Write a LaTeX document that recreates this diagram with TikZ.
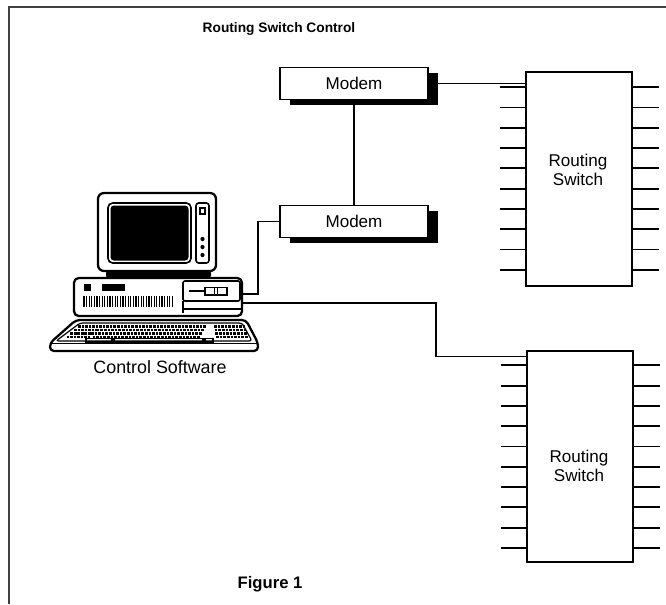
\documentclass[tikz,border=0pt]{standalone}
\usepackage{fontspec}
\setmainfont{Liberation Sans}
\usetikzlibrary{calc,shadows}
\begin{document}
\begin{tikzpicture}[x=0.75pt,y=-0.75pt,
  ln/.style={line width=1.1pt},
  boxln/.style={line width=1.3pt},
  bodyfont/.style={font=\fontsize{12.8}{14.5}\selectfont},
  modembox/.style={draw,boxln,fill=white,minimum width=111pt,minimum height=24pt,
    inner sep=0pt,bodyfont,
    drop shadow={shadow xshift=7.5pt,shadow yshift=-4pt,fill=black,opacity=1}},
  switchbox/.style={draw,boxln,fill=white,minimum width=79.5pt,inner sep=0pt},
  stub/.style={line width=1.4pt},
  keycap/.style={fill=black},
  pcline/.style={line width=1.4pt,line join=round}]
\useasboundingbox (0,0) rectangle (666,604);
\fill[white] (0,0) rectangle (666,604);

% page frame: top and left rules
\draw[line width=1.2pt,black!75] (9,604) -- (9,7) -- (666,7);

% headings
\node[anchor=west,font=\bfseries\fontsize{10.3}{12}\selectfont] (title) at (198,29) {Routing Switch Control};
\node[font=\bfseries\fontsize{12.5}{14}\selectfont] (fig) at (270,584) {Figure 1};

% modems
\node[modembox] (modemA) at (354,83.5) {Modem};
\node[modembox] (modemB) at (354,221.5) {Modem};

% routing switches with their ports
\node[switchbox,minimum height=160.5pt] (swA) at (579,179) {};
\node[bodyfont,align=center] (swAtxt) at (578,170) {Routing\\Switch};
\node[switchbox,minimum height=158pt] (swB) at (580,456.5) {};
\node[bodyfont,align=center] (swBtxt) at (579,466) {Routing\\Switch};
\foreach \i in {0,...,9}{
  \draw[stub] ($(swA.north west)+(-25,{16+20.3*\i})$) -- ++(25,0);
  \draw[stub] ($(swA.north east)+(0,{16+20.3*\i})$) -- ++(26,0);
  \draw[stub] ($(swB.north west)+(-25,{15+20.3*\i})$) -- ++(25,0);
  \draw[stub] ($(swB.north east)+(0,{15+20.3*\i})$) -- ++(26,0);
}

% ---- personal computer ----
% monitor
\draw[pcline,line width=1.7pt,rounded corners=4.5pt] (98,193) rectangle (216,271);
\draw[line width=1.2pt,rounded corners=3.5pt] (108,203) rectangle (191,263);
\fill[black,rounded corners=2.5pt] (110.5,205.5) rectangle (188.5,260.5);
\draw[line width=1.2pt,rounded corners=2pt] (196,203) rectangle (209,263);
\draw[line width=1.3pt] (200,208) rectangle (205,214);
\foreach \yy in {239,247,255} \fill (202.5,\yy) circle (2.1);
% monitor foot
\fill[rounded corners=1.5pt] (106,271) rectangle (211,277.5);
% system unit
\draw[pcline,line width=1.7pt,rounded corners=3.5pt] (74,278) rectangle (242,316);
\fill (84,284) rectangle (91,291);
\fill (102,284) rectangle (125,291);
\foreach \k in {0,...,34} \draw[line width=0.85pt] ({84+2.6*\k},296) -- ++(0,11);
\draw[line width=1.2pt,rounded corners=1.5pt] (183,281) rectangle (240,301);
\draw[line width=1.2pt] (183,301) -- (183,313);
\draw[line width=1.2pt] (183,309) -- (241,309);
\draw[line width=1.6pt] (189,291) -- (205,291);
\draw[line width=1.2pt] (205,287.5) rectangle (227,295);
\draw[line width=1.2pt] (214.5,287.5) -- (214.5,295);
\draw[line width=1.2pt] (217.5,287.5) -- (217.5,295);
% keyboard
\draw[pcline,line width=1.7pt,rounded corners=3pt] (76,320) -- (246,320) -- (258,343) -- (258,351) -- (50,351) -- (50,343) -- cycle;
\draw[line width=1.1pt] (50,343.5) -- (258,343.5);
\draw[line width=0.9pt,rounded corners=2pt] (80,323) -- (242,323) -- (252,341) -- (56,341) -- cycle;
\foreach \r in {0,...,3}{
  \pgfmathsetmacro\yy{325+3.6*\r}
  \pgfmathsetmacro\xl{78-1.05*3.6*\r}
  \pgfmathsetmacro\xm{99-0.6*3.6*\r}
  \pgfmathsetmacro\xr{214+0.2*3.6*\r}
  \foreach \k in {0,...,6} \fill[keycap] ({\xl+3.5*\k},\yy) rectangle ++(2.6,2.6);
  \foreach \k in {0,...,29} \fill[keycap] ({\xm+3.6*\k},\yy) rectangle ++(2.6,2.6);
  \foreach \k in {0,...,8} \fill[keycap] ({\xr+3.6*\k},\yy) rectangle ++(2.6,2.6);
}
\draw[line width=0.9pt] (86,338.3) rectangle (112,342);
\draw[line width=0.9pt] (114,338.3) rectangle (203,342);
\draw[line width=0.9pt] (205,338.3) rectangle (213,342);
\coordinate (pcA) at (241,294);
\coordinate (pcB) at (242,303);
\node[font=\fontsize{13.4}{15}\selectfont] (pclabel) at (160,367) {Control Software};

% ---- connections ----
\coordinate (bendA) at (258,294);
\coordinate (bendB) at (436,303);
\coordinate (swBin) at ($(swB.north west)+(0,6)$);
\draw[ln] (pcA) -- (bendA) |- (modemB.west);
\draw[ln] (pcB) -- (bendB) |- (swBin);
\draw[ln] (modemA.south) -- (modemB.north);
\draw[ln] (modemA.east) -- (modemA.east -| swA.west);
\end{tikzpicture}
\end{document}
